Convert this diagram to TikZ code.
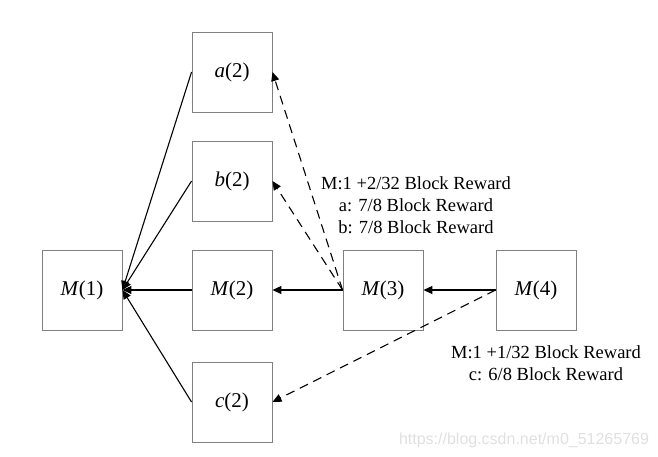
\documentclass[tikz,border=0pt]{standalone}
\usepackage{fontspec}
\setmainfont{Liberation Serif}
\setsansfont{Liberation Sans}
\usetikzlibrary{arrows.meta}
\begin{document}
\begin{tikzpicture}[x=1pt,y=-1pt,
  blk/.style={draw=black!50, line width=0.9pt, minimum width=80pt, minimum height=80pt, inner sep=0pt, font=\fontsize{21}{23}\selectfont},
  solidarr/.style={line width=1.1pt, -{Triangle[length=9pt,width=8pt]}},
  dasharr/.style={line width=1.1pt, dash pattern=on 9pt off 6pt, -{Triangle[length=9pt,width=8pt]}},
  note/.style={align=center, font=\fontsize{18.5}{22}\selectfont}]
\useasboundingbox (0,0) rectangle (658,456);
\node[blk] (a2) at (232,72) {\textit{a}(2)};
\node[blk] (b2) at (232,181) {\textit{b}(2)};
\node[blk] (m1) at (82,290) {\textit{M}(1)};
\node[blk] (m2) at (232,290) {\textit{M}(2)};
\node[blk] (m3) at (383,290) {\textit{M}(3)};
\node[blk] (m4) at (536,290) {\textit{M}(4)};
\node[blk] (c2) at (232,402) {\textit{c}(2)};
\draw[solidarr] (a2.west) -- (m1.east);
\draw[solidarr] (b2.west) -- (m1.east);
\draw[solidarr] (c2.west) -- (m1.east);
\draw[solidarr] (m2.west) -- (m1.east);
\draw[solidarr] (m3.west) -- (m2.east);
\draw[solidarr] (m4.west) -- (m3.east);
\draw[dasharr] (m3.west) -- (a2.east);
\draw[dasharr] (m3.west) -- (b2.east);
\draw[dasharr] (m4.west) -- (c2.east);
\node[note] (n1) at (416,205) {M:1 +2/32 Block Reward\\a: 7/8 Block Reward\\b: 7/8 Block Reward};
\node[note] (n2) at (546,363) {M:1 +1/32 Block Reward\\c: 6/8 Block Reward};
\node[font=\sffamily\fontsize{16}{18}\selectfont, text=black!12] (wm) at (524,440) {https://blog.csdn.net/m0\_51265769};
\end{tikzpicture}
\end{document}
